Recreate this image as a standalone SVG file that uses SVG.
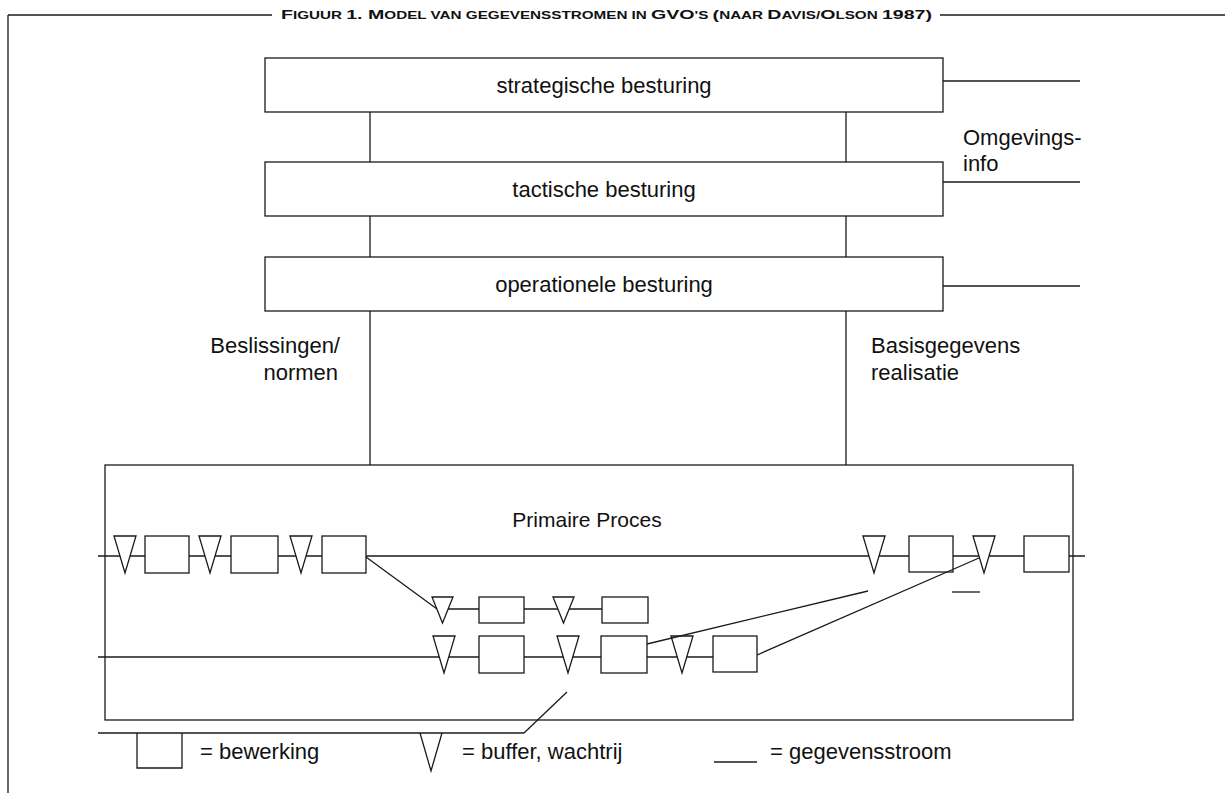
<svg xmlns="http://www.w3.org/2000/svg" width="1225" height="793" viewBox="0 0 1225 793">
<style>
.ln{stroke:#1a1a1a;stroke-width:1.3;fill:none}
.box{fill:#fff;stroke:#1a1a1a;stroke-width:1.3}
.t{font-family:"Liberation Sans",Arial,sans-serif;font-size:22px;fill:#111}
.c{text-anchor:middle}
.title{font-family:"Liberation Sans",Arial,sans-serif;font-weight:bold;font-size:10.5px;fill:#111}
.B{font-size:13.5px}
</style>
<defs>
<path id="tri" d="M0,0 L22,0 L11,37 Z"/>
<path id="tri2" d="M0,0 L21,0 L10.5,26 Z"/>
</defs>
<g id="frame">
<line class="ln" x1="8" y1="15" x2="272" y2="15"/>
<line class="ln" x1="940" y1="15" x2="1225" y2="15"/>
<line class="ln" x1="8" y1="15" x2="8" y2="793"/>
<text class="title" x="281" y="19" textLength="651" lengthAdjust="spacingAndGlyphs"><tspan class="B">F</tspan>IGUUR <tspan class="B">1. M</tspan>ODEL VAN GEGEVENSSTROMEN IN <tspan class="B">GVO</tspan>'S <tspan class="B">(</tspan>NAAR <tspan class="B">D</tspan>AVIS/<tspan class="B">O</tspan>LSON <tspan class="B">1987)</tspan></text>
</g>
<g id="connectors">
<line class="ln" x1="370" y1="112" x2="370" y2="162"/>
<line class="ln" x1="846" y1="112" x2="846" y2="162"/>
<line class="ln" x1="370" y1="216" x2="370" y2="257"/>
<line class="ln" x1="846" y1="216" x2="846" y2="257"/>
<line class="ln" x1="370" y1="311" x2="370" y2="465"/>
<line class="ln" x1="846" y1="311" x2="846" y2="465"/>
<line class="ln" x1="943" y1="81" x2="1080" y2="81"/>
<line class="ln" x1="943" y1="182" x2="1080" y2="182"/>
<line class="ln" x1="943" y1="286" x2="1080" y2="286"/>
<line class="ln" x1="98" y1="556" x2="1085" y2="556"/>
<line class="ln" x1="437" y1="609" x2="602" y2="609"/>
<line class="ln" x1="98" y1="657" x2="713" y2="657"/>
<line class="ln" x1="98" y1="733" x2="524" y2="733"/>
</g>
<g id="strategisch">
<rect class="box" x="265" y="58" width="678" height="54"/>
<text class="t c" x="604" y="93">strategische besturing</text>
</g>
<g id="tactisch">
<rect class="box" x="265" y="162" width="678" height="54"/>
<text class="t c" x="604" y="197">tactische besturing</text>
</g>
<g id="operationeel">
<rect class="box" x="265" y="257" width="678" height="54"/>
<text class="t c" x="604" y="292">operationele besturing</text>
</g>
<g id="labels">
<text class="t" x="963" y="145">Omgevings-</text>
<text class="t" x="963" y="171">info</text>
<text class="t" x="340" y="353" text-anchor="end">Beslissingen/</text>
<text class="t" x="338" y="380" text-anchor="end">normen</text>
<text class="t" x="871" y="353">Basisgegevens</text>
<text class="t" x="871" y="380">realisatie</text>
</g>
<g id="primair">
<rect class="ln" x="105" y="465" width="968" height="255"/>
<text class="t c" x="587" y="527" style="font-size:21px">Primaire Proces</text>
</g>
<g id="rij1">
<use href="#tri" x="114" y="536" class="box"/>
<rect class="box" x="145" y="536" width="44" height="37"/>
<use href="#tri" x="199" y="536" class="box"/>
<rect class="box" x="231" y="536" width="47" height="37"/>
<use href="#tri" x="290" y="536" class="box"/>
<rect class="box" x="322" y="536" width="44" height="37"/>
<use href="#tri" x="863" y="536" class="box"/>
<rect class="box" x="909" y="536" width="44" height="36"/>
<use href="#tri" x="973" y="536" class="box"/>
<rect class="box" x="1024" y="536" width="45" height="36"/>
</g>
<g id="rij2">
<use href="#tri2" x="432" y="597" class="box"/>
<rect class="box" x="479" y="597" width="45" height="26"/>
<use href="#tri2" x="553" y="597" class="box"/>
<rect class="box" x="602" y="597" width="46" height="26"/>
</g>
<g id="rij3">
<use href="#tri" x="433" y="636" class="box"/>
<rect class="box" x="479" y="636" width="45" height="37"/>
<use href="#tri" x="557" y="636" class="box"/>
<rect class="box" x="601" y="636" width="46" height="37"/>
<use href="#tri" x="671" y="636" class="box"/>
<rect class="box" x="713" y="636" width="44" height="36"/>
</g>
<g id="diagonalen">
<line class="ln" x1="366" y1="557" x2="437" y2="609"/>
<line class="ln" x1="647" y1="644" x2="868" y2="591"/>
<line class="ln" x1="757" y1="655" x2="979" y2="558"/>
<line class="ln" x1="567" y1="692" x2="524" y2="733"/>
<line class="ln" x1="952" y1="592" x2="980" y2="592"/>
</g>
<g id="legenda">
<path class="ln" d="M137,733 V768 H182 V733"/>
<text class="t" x="200" y="759">= bewerking</text>
<path class="ln" d="M420,733 L431,771 L442,733"/>
<text class="t" x="462" y="759">= buffer, wachtrij</text>
<line class="ln" x1="714" y1="762" x2="757" y2="762"/>
<text class="t" x="770" y="759">= gegevensstroom</text>
</g>
</svg>
